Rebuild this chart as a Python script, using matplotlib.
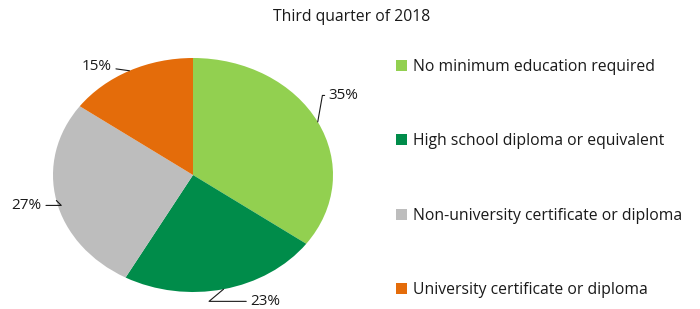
import matplotlib.pyplot as plt
import numpy as np

title = "Third quarter of 2018"
categories = [
    "No minimum education required",
    "High school diploma or equivalent",
    "Non-university certificate or diploma",
    "University certificate or diploma",
]
shares = [35, 23, 27, 15]
colors = ["#92D050", "#008C4A", "#BDBDBD", "#E46C0A"]

# label text positions (axes data units, radius 1 = pie edge), alignment, leader style
label_pos = [(0.97, 0.68), (0.41, -1.08), (-1.08, -0.26), (-0.58, 0.93)]
label_ha = ["left", "left", "right", "right"]
leader = [
    "angle,angleA=0,angleB=80,rad=0",
    "angle,angleA=0,angleB=40,rad=0",
    "angle,angleA=0,angleB=-45,rad=0",
    "arc3,rad=0",
]

plt.rcParams["font.family"] = ["Open Sans", "DejaVu Sans"]
text_color = "#1a1a1a"

fig = plt.figure(figsize=(7.0, 3.09), dpi=100)
ax = fig.add_axes([53 / 700, 17 / 309, 280 / 700, 234 / 309])

wedges, _ = ax.pie(shares, colors=colors, startangle=90, counterclock=False,
                   radius=1.0, wedgeprops=dict(linewidth=0))
ax.set_aspect("auto")
ax.set_xlim(-1, 1)
ax.set_ylim(-1, 1)
ax.axis("off")

total = float(sum(shares))
start = 90.0
for i, v in enumerate(shares):
    mid = np.deg2rad(start - v / total * 180.0)
    start -= v / total * 360.0
    ex, ey = np.cos(mid), np.sin(mid)
    ax.annotate(f"{v}%", xy=(ex, ey), xytext=label_pos[i], ha=label_ha[i], va="center",
                fontsize=11, color=text_color, annotation_clip=False,
                arrowprops=dict(arrowstyle="-", color=text_color, lw=0.8,
                                shrinkA=1, shrinkB=0, connectionstyle=leader[i]))

fig.text(352 / 700, 1 - 17 / 309, title, ha="center", va="center",
         fontsize=11.3, color=text_color)

leg = fig.legend(wedges, categories, loc="upper left",
                 bbox_to_anchor=(396 / 700, 1 - 59 / 309), frameon=False,
                 fontsize=11.3, handlelength=0.7, handleheight=0.7,
                 handletextpad=0.4, labelspacing=3.72, borderpad=0,
                 borderaxespad=0)
for t in leg.get_texts():
    t.set_color(text_color)

fig.savefig("out.png", dpi=100, facecolor="white")
